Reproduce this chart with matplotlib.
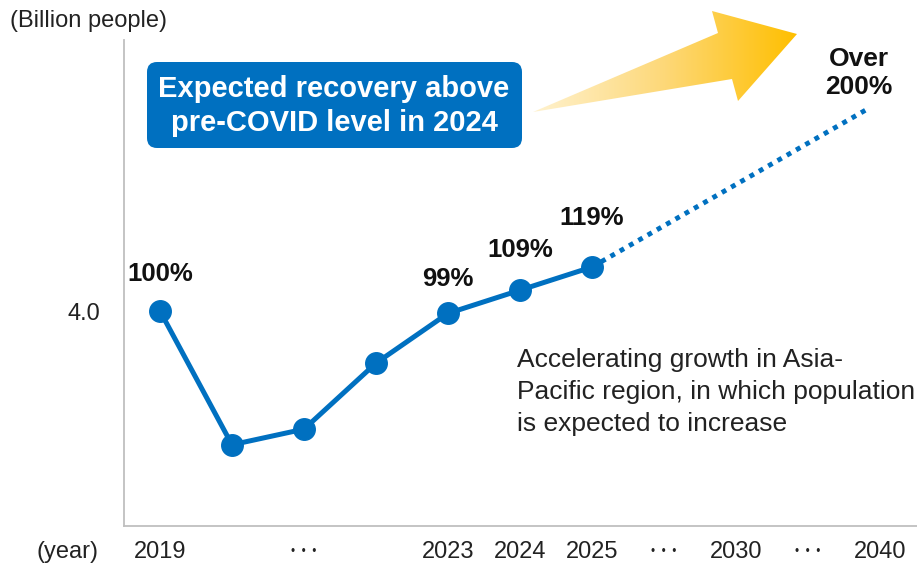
import numpy as np
import matplotlib
matplotlib.use("Agg")
import matplotlib.pyplot as plt
from matplotlib.patches import Polygon, FancyBboxPatch
from matplotlib.colors import LinearSegmentedColormap

plt.rcParams['font.family'] = ['Liberation Sans', 'DejaVu Sans']

# passengers (billion people), 2019 = 100%
base = 4.0
pct_labels = ["100%", "99%", "109%", "119%"]
pct_values = [100, 99, 109, 119]
pct_pos = [0, 4, 5, 6]

actual_pos = [0, 1, 2, 3, 4, 5, 6]
actual_vals = [base, 1.69, 1.96, 3.10,
               base * 0.99, base * 1.09, base * 1.19]

forecast_pos = [6, 9.8]
forecast_vals = [base * 1.19, 7.47]

tick_pos = list(range(11))
tick_labels = ["2019", "", "", "", "2023", "2024", "2025", "", "2030", "", "2040"]
gap_pos = [2, 7, 9]

blue = "#0070c0"
W, H = 917, 565

fig = plt.figure(figsize=(W / 100, H / 100), dpi=100)
ax = fig.add_axes([124 / W, (H - 526) / H, (W - 124) / W, (526 - 40) / H])
ax.set_facecolor("none")

ax.plot(actual_pos, actual_vals, color=blue, lw=3.6, marker="o",
        markersize=15.5, solid_capstyle="round", zorder=3)
ax.plot(forecast_pos, forecast_vals, color=blue, lw=3.5,
        linestyle=(0, (1, 1.2)), dash_capstyle="butt", zorder=2)

# percentage labels above the points
offsets = [27, 25, 29, 35]
for p, v, t, off in zip(pct_pos, pct_values, pct_labels, offsets):
    ax.annotate(t, (p, base * v / 100), xytext=(0, off), textcoords="offset points",
                ha="center", va="center", fontsize=18.5, fontweight="bold",
                color="#111111")

# skipped years shown as dots
for p in gap_pos:
    ax.annotate("\u2022  \u2022  \u2022", (p, 0), xycoords=("data", "axes fraction"),
                xytext=(0, -19), textcoords="offset points", ha="center",
                va="center", fontsize=8.5, color="#222222")

ax.set_xlim(-0.5, (W - 160) / 72)
ax.set_ylim(0.287, 0.287 + 486 / 57.9)
ax.set_xticks(tick_pos)
ax.set_xticklabels(tick_labels)
ax.set_yticks([4.0])
ax.set_yticklabels(["4.0"])
ax.tick_params(axis="x", length=0, pad=11, labelsize=17, labelcolor="#222222")
ax.tick_params(axis="y", length=0, pad=17, labelsize=17, labelcolor="#222222")
for s in ["top", "right"]:
    ax.spines[s].set_visible(False)
for s in ["left", "bottom"]:
    ax.spines[s].set_color("#bfbfbf")
    ax.spines[s].set_linewidth(1.3)

# overlay in pixel units for the callouts
deco = fig.add_axes([0, 0, 1, 1])
deco.set_facecolor("none")
deco.axis("off")

arrow_pts = [(533, 112), (718, 33), (712, 11), (797, 34), (738, 101), (732, 79)]
arrow = Polygon(arrow_pts, closed=True, facecolor="none", edgecolor="none")
deco.add_patch(arrow)
cmap = LinearSegmentedColormap.from_list(
    "warm", [(0, "#fff2cf"), (0.5, "#fdd878"), (1, "#ffbf00")])
grad = np.linspace(0, 1, 256).reshape(1, -1)
im = deco.imshow(grad, extent=(533, 797, 112, 11), cmap=cmap, aspect="auto",
                 interpolation="bilinear")
im.set_clip_path(arrow)

r = 10
box = FancyBboxPatch((147 + r, 62 + r), 375 - 2 * r, 86 - 2 * r,
                     boxstyle=f"round,pad={r}", facecolor=blue, edgecolor="none")
deco.add_patch(box)
deco.text(334, 106, "Expected recovery above\npre-COVID level in 2024",
          ha="center", va="center", color="white", fontsize=21,
          fontweight="bold", linespacing=1.27)

deco.text(859, 73, "Over\n200%", ha="center", va="center", fontsize=19,
          fontweight="bold", color="#111111", linespacing=1.2)
deco.text(517, 392, "Accelerating growth in Asia-\nPacific region, in which population\n"
          "is expected to increase", ha="left", va="center", fontsize=19,
          color="#222222", linespacing=1.42)
deco.text(10, 21, "(Billion people)", ha="left", va="center", fontsize=17,
          color="#222222")
deco.text(37, 552, "(year)", ha="left", va="center", fontsize=17,
          color="#222222")

deco.set_xlim(0, W)
deco.set_ylim(H, 0)

fig.savefig("out.png", dpi=100)
